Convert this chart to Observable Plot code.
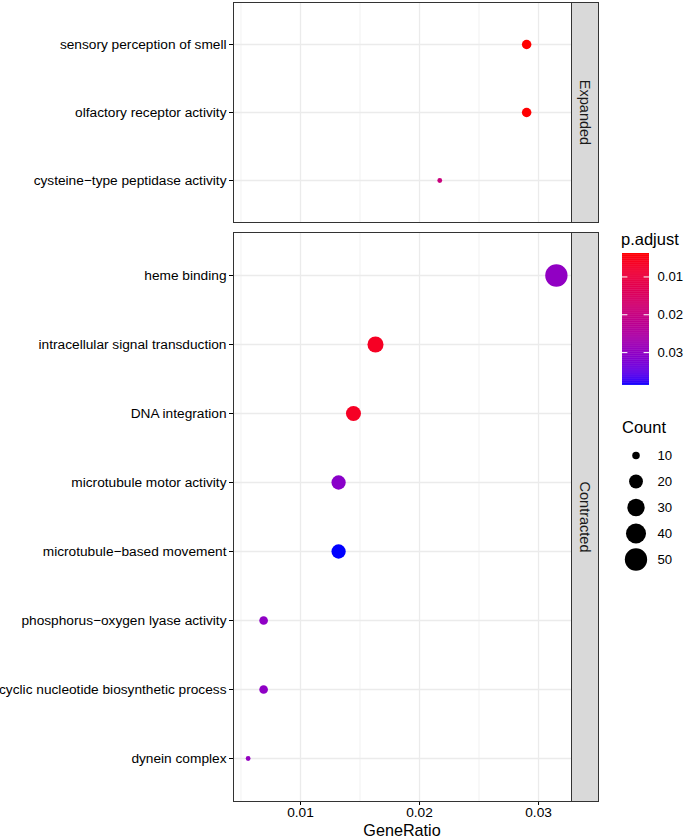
<!DOCTYPE html>
<html>
<head>
<meta charset="utf-8">
<script src="https://cdn.jsdelivr.net/npm/d3@7"></script>
<script src="https://cdn.jsdelivr.net/npm/@observablehq/plot@0.6"></script>
<style>
  body { margin: 0; background: #fff; }
  #root { position: relative; width: 685px; height: 838px; overflow: hidden; font-family: "Liberation Sans", Arial, Helvetica, sans-serif; }
  #root > * { position: absolute; left: 0; top: 0; }
  .ttl { font-size: 16.5px; line-height: 16.5px; color: #000; white-space: nowrap; font-weight: normal; }
</style>
</head>
<body>
<div id="root"></div>
<script>
// ---- data ----
const expandedTerms = ["sensory perception of smell", "olfactory receptor activity", "cysteine\u2212type peptidase activity"];
const expandedRatio = [0.0290, 0.0290, 0.0217];
const expandedCount = [12, 12, 9];
const expandedP = [0.0038, 0.0039, 0.0195];

const contractedTerms = ["heme binding", "intracellular signal transduction", "DNA integration",
  "microtubule motor activity", "microtubule\u2212based movement", "phosphorus\u2212oxygen lyase activity",
  "cyclic nucleotide biosynthetic process", "dynein complex"];
const contractedRatio = [0.0315, 0.0163, 0.01445, 0.0132, 0.0132, 0.0069, 0.0069, 0.0056];
const contractedCount = [50, 26, 23, 21, 21, 11, 11, 9];
const contractedP = [0.0300, 0.0066, 0.0066, 0.0310, 0.0387, 0.0303, 0.0303, 0.0296];

const xTicks = [0.01, 0.02, 0.03];
const xMinor = [0.005, 0.015, 0.025];
const colorTicks = [0.01, 0.02, 0.03];
const countBreaks = [10, 20, 30, 40, 50];
const facetLabels = ["Expanded", "Contracted"];

// ---- setup ----
const W = 685, H = 838;
const fontFam = '"Liberation Sans", Arial, Helvetica, sans-serif';
const root = document.getElementById("root");
const base = {width: W, height: H, style: {fontFamily: fontFam, fontSize: "13.7px", background: "none", color: "#000", overflow: "visible"}};
function add(el) { root.appendChild(el); return el; }

const xDomain = [0.00437, 0.03277];
const [cMin, cMax] = d3.extent(expandedCount.concat(contractedCount));
const rad = c => 2.4 + 8.75 * Math.sqrt((c - cMin) / (cMax - cMin));
const pExtent = d3.extent(expandedP.concat(contractedP));
const colorOpts = {type: "linear", domain: pExtent, range: ["red", "blue"], interpolate: "lab"};
const fmt = d3.format(".2f");

function panel(terms, ratio, count, p, top, bottom, showX) {
  const data = terms.map((t, i) => ({term: t, ratio: ratio[i], count: count[i], p: p[i]}));
  return Plot.plot({
    ...base,
    marginLeft: 233, marginRight: W - 571, marginTop: top, marginBottom: H - bottom,
    x: showX ? {domain: xDomain, ticks: xTicks, tickFormat: fmt, tickSize: 4, tickPadding: 2, label: null}
             : {domain: xDomain, axis: null},
    y: {type: "point", domain: terms, padding: 0.6, tickSize: 4, tickPadding: 3, label: null},
    color: colorOpts,
    r: {type: "identity"},
    marks: [
      Plot.ruleX(xMinor, {stroke: "#ebebeb", strokeWidth: 0.7}),
      Plot.ruleX(xTicks, {stroke: "#ebebeb", strokeWidth: 1.3}),
      Plot.ruleY(terms, {stroke: "#ebebeb", strokeWidth: 1.3}),
      Plot.dot(data, {x: "ratio", y: "term", r: d => rad(d.count), fill: "p", stroke: null}),
      Plot.frame({stroke: "#333", strokeWidth: 1})
    ]
  });
}

function strip(label, top, bottom) {
  return Plot.plot({
    ...base,
    marginLeft: 571, marginRight: W - 598, marginTop: top, marginBottom: H - bottom,
    marks: [
      Plot.frame({fill: "#d9d9d9", stroke: "#333", strokeWidth: 1}),
      Plot.text([label], {frameAnchor: "middle", rotate: 90, fontSize: 14.5, fill: "#1a1a1a"})
    ]
  });
}

add(panel(expandedTerms, expandedRatio, expandedCount, expandedP, 2, 222, false));
add(panel(contractedTerms, contractedRatio, contractedCount, contractedP, 232, 801, true));
add(strip(facetLabels[0], 2, 222));
add(strip(facetLabels[1], 232, 801));

// colour bar legend
const nbin = 200;
const stepP = (pExtent[1] - pExtent[0]) / nbin;
const bins = d3.range(nbin).map(i => pExtent[0] + stepP * i);
add(Plot.plot({
  ...base,
  marginLeft: 622, marginRight: W - 649, marginTop: 253, marginBottom: H - 385,
  x: {domain: [0, 1], axis: null},
  y: {domain: pExtent, reverse: true, axis: null},
  color: colorOpts,
  marks: [
    Plot.rect(bins, {x1: 0, x2: 1, y1: d => d, y2: d => Math.min(d + stepP * 1.6, pExtent[1]), fill: d => d + stepP / 2}),
    Plot.ruleY(colorTicks, {x1: 0, x2: 0.2, stroke: "white", strokeWidth: 1}),
    Plot.ruleY(colorTicks, {x1: 0.8, x2: 1, stroke: "white", strokeWidth: 1}),
    Plot.text(colorTicks, {x: 1, y: d => d, dx: 8, textAnchor: "start", text: fmt, fontSize: 13.2, fill: "#000"})
  ]
}));

// size legend
add(Plot.plot({
  ...base,
  marginLeft: 622, marginRight: W - 649, marginTop: 455, marginBottom: H - 559,
  x: {domain: [0, 1], axis: null},
  y: {type: "point", domain: countBreaks, padding: 0, axis: null},
  r: {type: "identity"},
  marks: [
    Plot.dot(countBreaks, {x: 0.5, y: d => d, r: d => rad(d), fill: "#000", stroke: null}),
    Plot.text(countBreaks, {x: 1, y: d => d, dx: 8, textAnchor: "start", text: d => String(d), fontSize: 13.2, fill: "#000"})
  ]
}));

// titles
function title(text, left, top, extra) {
  const d = document.createElement("div");
  d.className = "ttl";
  d.textContent = text;
  d.style.left = left + "px";
  d.style.top = top + "px";
  Object.assign(d.style, extra || {});
  root.appendChild(d);
}
title("p.adjust", 621, 231);
title("Count", 622, 418.5);
title("GeneRatio", 302, 823, {width: "200px", textAlign: "center", lineHeight: "15px", fontSize: "16.2px"});
</script>
</body>
</html>
